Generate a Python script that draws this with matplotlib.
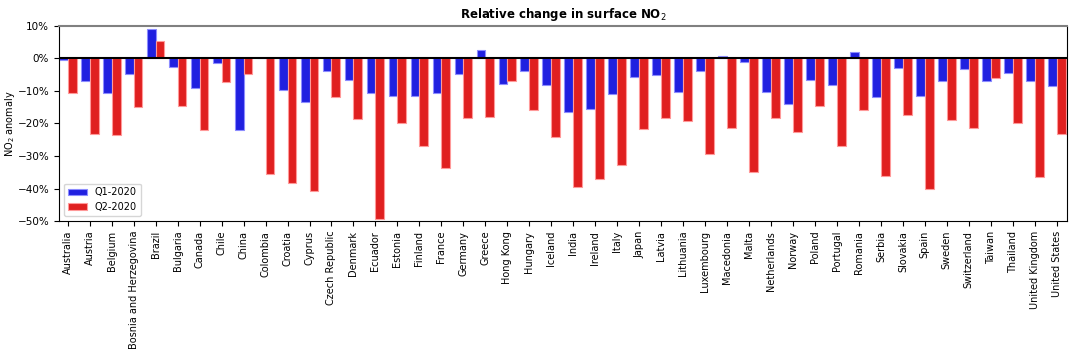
import matplotlib
matplotlib.use("Agg")
import matplotlib.pyplot as plt
import numpy as np
from matplotlib.ticker import PercentFormatter

# Datos (% de cambio)
paises = ["Australia", "Austria", "Belgium", "Bosnia and Herzegovina", "Brazil",
          "Bulgaria", "Canada", "Chile", "China", "Colombia", "Croatia", "Cyprus",
          "Czech Republic", "Denmark", "Ecuador", "Estonia", "Finland", "France",
          "Germany", "Greece", "Hong Kong", "Hungary", "Iceland", "India", "Ireland",
          "Italy", "Japan", "Latvia", "Lithuania", "Luxembourg", "Macedonia", "Malta",
          "Netherlands", "Norway", "Poland", "Portugal", "Romania", "Serbia",
          "Slovakia", "Spain", "Sweden", "Switzerland", "Taiwan", "Thailand",
          "United Kingdom", "United States"]

q1 = [-0.6, -7.0, -10.5, -4.7, 9.0, -2.5, -9.2, -1.4, -22.1, 0.0, -9.6, -13.5,
      -3.9, -6.7, -10.5, -11.6, -11.4, -10.7, -4.9, 2.5, -7.9, -4.0, -8.1, -16.6,
      -15.4, -10.8, -5.7, -5.0, -10.3, -3.9, 0.6, -1.2, -10.3, -13.9, -6.5, -8.3,
      2.1, -11.8, -2.9, -11.6, -6.8, -3.4, -7.0, -4.4, -6.8, -8.4]

q2 = [-10.5, -23.3, -23.6, -15.0, 5.5, -14.6, -21.9, -7.3, -4.7, -35.4, -38.3, -40.9,
      -12.0, -18.7, -49.3, -19.7, -26.8, -33.6, -18.2, -18.0, -7.0, -15.8, -24.3, -39.6,
      -37.2, -32.8, -21.8, -18.4, -19.2, -29.3, -21.3, -34.9, -18.2, -22.7, -14.7, -26.8,
      -15.8, -36.3, -17.4, -40.1, -19.0, -21.5, -5.9, -19.9, -36.5, -23.2]

x = np.arange(len(paises))
ancho = 0.4

fig = plt.figure(figsize=(10.8, 3.6), dpi=100)
ax = fig.add_axes([0.0546, 0.386, 0.933, 0.542])

ax.bar(x, q1, width=-ancho, align="edge", color="#2020e0",
       edgecolor=(0.55, 0.55, 1.0), linewidth=0.8, label="Q1-2020")
ax.bar(x, q2, width=ancho, align="edge", color="#e02020",
       edgecolor=(1.0, 0.6, 0.6), linewidth=0.8, label="Q2-2020")

ax.axhline(0, color="k", linewidth=1.5)

ax.set_xlim(-0.4, len(paises) - 1 + 0.45)
ax.set_ylim(-50, 10)
ax.set_yticks(np.arange(-50, 11, 10))
ax.yaxis.set_major_formatter(PercentFormatter(decimals=0))
ax.set_xticks(x)
ax.set_xticklabels(paises, rotation=90, fontsize=7)
ax.tick_params(axis="y", labelsize=7.5)
ax.spines["top"].set_color("#808080")
ax.spines["top"].set_linewidth(1.5)

ax.set_ylabel("NO$_2$ anomaly", fontsize=7)
ax.yaxis.set_label_coords(-0.042, 0.5)
ax.set_title("Relative change in surface NO$_2$", fontweight="bold", fontsize=8.5)
ax.legend(loc="lower left", fontsize=7)

fig.savefig("out.png", dpi=100)
